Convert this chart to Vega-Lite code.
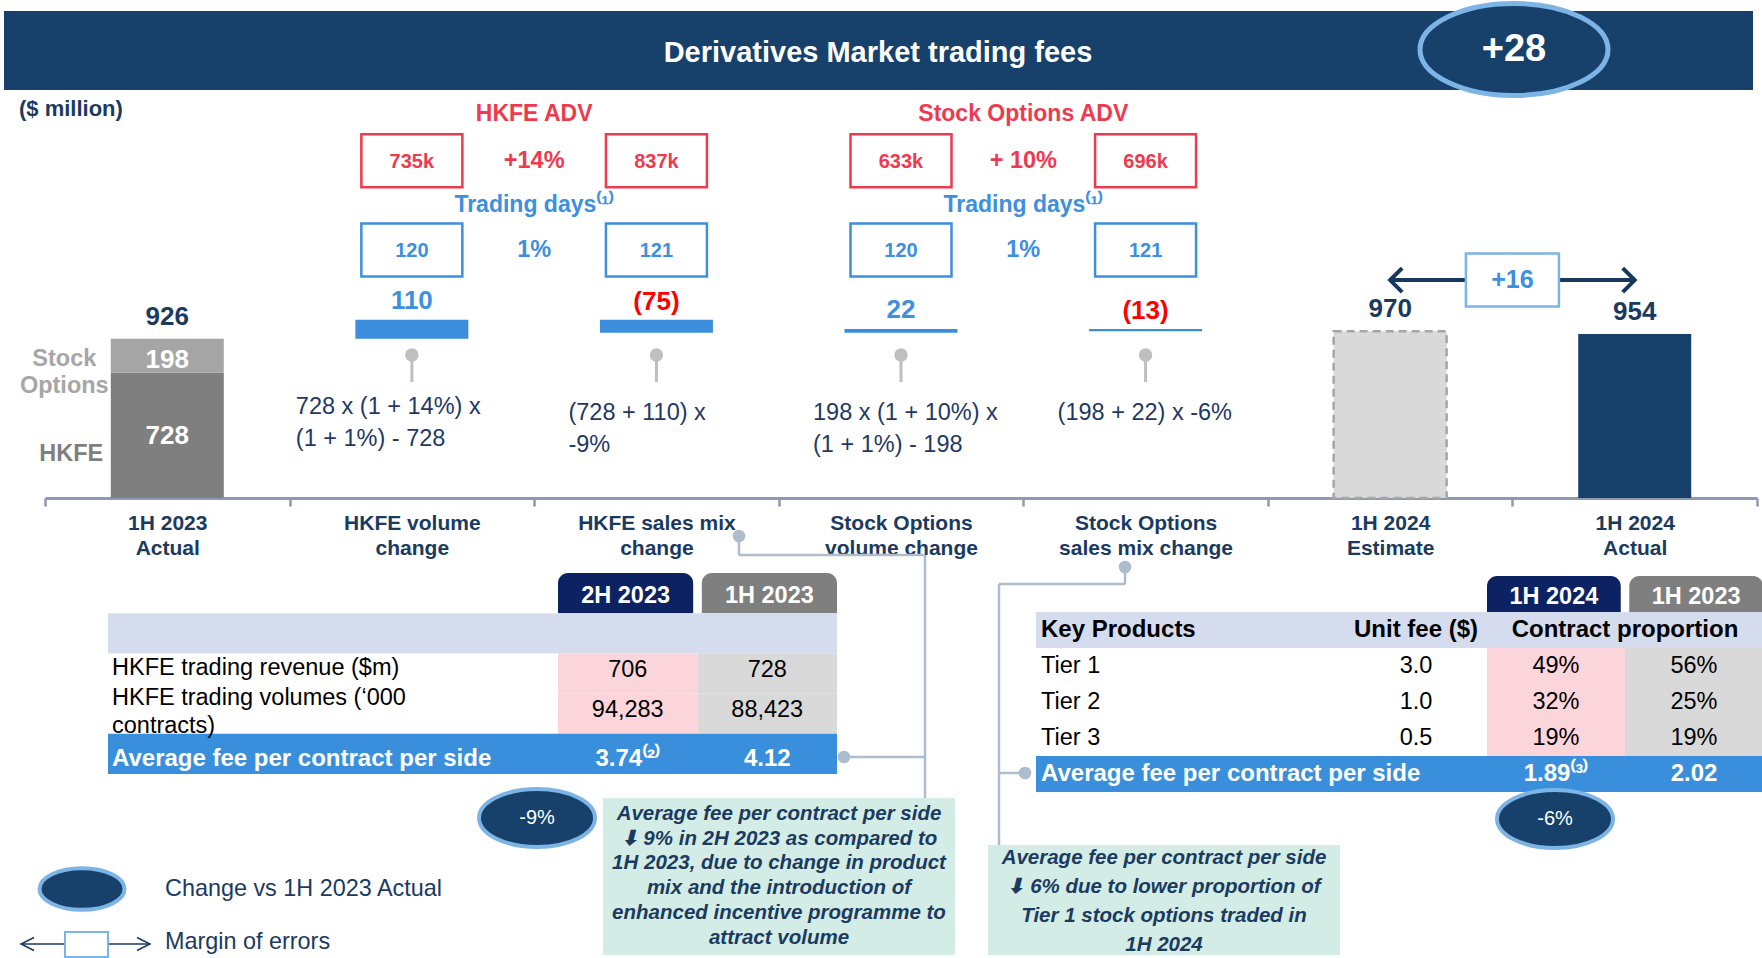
{
"$schema":"https://vega.github.io/schema/vega-lite/v6.json",
"width":1762,"height":958,"padding":0,"autosize":{"type":"none"},"background":"white",
"config":{"view":{"stroke":null},"font":"Liberation Sans"},
"data":{"values":[{"slide":"Derivatives Market trading fees","total_change":"+28","unit":"($ million)","estimate_gap":"+16"}]},
"datasets":{
"bars":[
{"category":"1H 2023 Actual","part":"HKFE","start":0,"end":728,"label":"728"},
{"category":"1H 2023 Actual","part":"Stock Options","start":728,"end":926,"label":"198"},
{"category":"HKFE volume change","part":"Increase","start":926,"end":1036,"label":"110"},
{"category":"HKFE sales mix change","part":"Decrease","start":1036,"end":961,"label":"(75)"},
{"category":"Stock Options volume change","part":"Increase","start":961,"end":983,"label":"22"},
{"category":"Stock Options sales mix change","part":"Decrease","start":983,"end":970,"label":"(13)"},
{"category":"1H 2024 Estimate","part":"Estimate","start":0,"end":970,"label":"970"},
{"category":"1H 2024 Actual","part":"Actual","start":0,"end":954,"label":"954"}],
"totals":[{"category":"1H 2023 Actual","total":926},{"category":"1H 2024 Estimate","total":970},{"category":"1H 2024 Actual","total":954}],
"driver_headings":[
{"metric":"HKFE ADV","row":"ADV heading","after":"HKFE volume change"},
{"metric":"Stock Options ADV","row":"ADV heading","after":"Stock Options volume change"},
{"metric":"Trading days⁽¹⁾","row":"Trading days heading","after":"HKFE volume change"},
{"metric":"Trading days⁽¹⁾","row":"Trading days heading","after":"Stock Options volume change"}],
"drivers":[
{"row":"ADV","category":"HKFE volume change","value":"735k"},
{"row":"ADV","category":"HKFE sales mix change","value":"837k"},
{"row":"ADV","category":"Stock Options volume change","value":"633k"},
{"row":"ADV","category":"Stock Options sales mix change","value":"696k"},
{"row":"Trading days","category":"HKFE volume change","value":"120"},
{"row":"Trading days","category":"HKFE sales mix change","value":"121"},
{"row":"Trading days","category":"Stock Options volume change","value":"120"},
{"row":"Trading days","category":"Stock Options sales mix change","value":"121"}],
"driver_changes":[
{"row":"ADV","after":"HKFE volume change","change":"+14%"},
{"row":"Trading days","after":"HKFE volume change","change":"1%"},
{"row":"ADV","after":"Stock Options volume change","change":"+ 10%"},
{"row":"Trading days","after":"Stock Options volume change","change":"1%"}],
"formulas":[
{"category":"HKFE volume change","formula":"728 x (1 + 14%) x\n(1 + 1%) - 728"},
{"category":"HKFE sales mix change","formula":"(728 + 110) x\n-9%"},
{"category":"Stock Options volume change","formula":"198 x (1 + 10%) x\n(1 + 1%) - 198"},
{"category":"Stock Options sales mix change","formula":"(198 + 22)  x -6%"}],
"hkfe_periods":[{"period":"2H 2023"},{"period":"1H 2023"}],
"hkfe_table":[
{"metric":"HKFE trading revenue ($m)","period":"2H 2023","value":"706"},
{"metric":"HKFE trading revenue ($m)","period":"1H 2023","value":"728"},
{"metric":"HKFE trading volumes (‘000 contracts)","period":"2H 2023","value":"94,283"},
{"metric":"HKFE trading volumes (‘000 contracts)","period":"1H 2023","value":"88,423"},
{"metric":"Average fee per contract per side","period":"2H 2023","value":"3.74⁽²⁾"},
{"metric":"Average fee per contract per side","period":"1H 2023","value":"4.12"}],
"hkfe_rows":[
{"metric":"HKFE trading revenue ($m)","label":"HKFE trading revenue ($m)"},
{"metric":"HKFE trading volumes (‘000 contracts)","label":"HKFE trading volumes (‘000\ncontracts)"},
{"metric":"Average fee per contract per side","label":"Average fee per contract per side"}],
"so_periods":[{"period":"1H 2024"},{"period":"1H 2023"}],
"so_header":[{"column":"Key Products"},{"column":"Unit fee ($)"},{"column":"Contract proportion"}],
"so_products":[{"product":"Tier 1","unit_fee":"3.0"},{"product":"Tier 2","unit_fee":"1.0"},{"product":"Tier 3","unit_fee":"0.5"}],
"so_table":[
{"product":"Tier 1","period":"1H 2024","share":"49%"},
{"product":"Tier 1","period":"1H 2023","share":"56%"},
{"product":"Tier 2","period":"1H 2024","share":"32%"},
{"product":"Tier 2","period":"1H 2023","share":"25%"},
{"product":"Tier 3","period":"1H 2024","share":"19%"},
{"product":"Tier 3","period":"1H 2023","share":"19%"},
{"product":"Average fee per contract per side","period":"1H 2024","share":"1.89⁽³⁾"},
{"product":"Average fee per contract per side","period":"1H 2023","share":"2.02"}],
"fee_changes":[{"table":"HKFE","change":"-9%"},{"table":"Stock Options","change":"-6%"}],
"legend":[{"item":"Change vs 1H 2023 Actual"},{"item":"Margin of errors"}],
"callouts":[
{"topic":"HKFE","note":"Average fee per contract per side\n⬇ 9% in 2H 2023 as compared to\n1H 2023, due to change in product\nmix and the introduction of\nenhanced incentive programme to\nattract volume"},
{"topic":"Stock Options","note":"Average fee per contract per side\n⬇ 6% due to lower proportion of\nTier 1 stock options traded in\n1H 2024"}]
},
"layer":[
{"mark":{"type":"rect","color":"#17416B"},"encoding":{"x":{"datum":0.227,"type":"quantitative","scale":{"domain":[0,100],"range":[0,1762]},"axis":null},"x2":{"datum":99.489},"y":{"datum":1.148,"type":"quantitative","scale":{"domain":[0,100],"range":[0,958]},"axis":null},"y2":{"datum":9.395}}},
{"mark":{"type":"text","color":"white","fontSize":29,"fontWeight":"bold","align":"center","baseline":"middle"},"encoding":{"x":{"datum":49.83,"type":"quantitative","scale":{"domain":[0,100],"range":[0,1762]},"axis":null},"y":{"datum":5.5,"type":"quantitative","scale":{"domain":[0,100],"range":[0,958]},"axis":null},"text":{"field":"slide"}}},
{"mark":{"type":"point","shape":"M -1 0 C -1 -0.2706 -0.5523 -0.49 0 -0.49 C 0.5523 -0.49 1 -0.2706 1 0 C 1 0.2706 0.5523 0.49 0 0.49 C -0.5523 0.49 -1 0.2706 -1 0 Z","size":35344,"filled":true,"fill":"#17416B","stroke":"#7DB4E6","strokeWidth":5,"opacity":1},"encoding":{"x":{"datum":85.925,"type":"quantitative","scale":{"domain":[0,100],"range":[0,1762]},"axis":null},"y":{"datum":5.167,"type":"quantitative","scale":{"domain":[0,100],"range":[0,958]},"axis":null}}},
{"mark":{"type":"text","color":"white","fontSize":38,"fontWeight":"bold","align":"center","baseline":"middle"},"encoding":{"x":{"datum":85.925,"type":"quantitative","scale":{"domain":[0,100],"range":[0,1762]},"axis":null},"y":{"datum":5.22,"type":"quantitative","scale":{"domain":[0,100],"range":[0,958]},"axis":null},"text":{"field":"total_change"}}},
{"mark":{"type":"text","color":"#1B3A60","fontSize":22,"fontWeight":"bold","align":"left","baseline":"middle"},"encoding":{"x":{"datum":1.078,"type":"quantitative","scale":{"domain":[0,100],"range":[0,1762]},"axis":null},"y":{"datum":11.378,"type":"quantitative","scale":{"domain":[0,100],"range":[0,958]},"axis":null},"text":{"field":"unit"}}},

{"data":{"name":"bars"},"transform":[{"filter":"datum.part !== 'Estimate'"}],"mark":{"type":"bar","width":{"band":0.462}},
"encoding":{"x":{"field":"category","type":"nominal","sort":null,"scale":{"type":"band","domain":["1H 2023 Actual","HKFE volume change","HKFE sales mix change","Stock Options volume change","Stock Options sales mix change","1H 2024 Estimate","1H 2024 Actual"],"range":[45,1757],"paddingInner":0,"paddingOuter":0},
"axis":{"orient":"bottom","offset":-460,"title":null,"grid":false,"domainColor":"#8E9AAF","domainWidth":3,"tickColor":"#8E9AAF","tickWidth":2.5,"tickSize":8,"tickBand":"extent","labelAngle":0,"labelFont":"Liberation Sans","labelFontSize":21,"labelFontWeight":"bold","labelColor":"#1B3A60","labelPadding":6,"labelLineHeight":25,"labelLimit":400,"labelOverlap":false,
"labelExpr":"indexof(datum.label,'Stock Options')==0 ? ['Stock Options', substring(datum.label,14)] : [substring(datum.label,0,lastindexof(datum.label,' ')), substring(datum.label,lastindexof(datum.label,' ')+1)]"}},
"y":{"field":"start","type":"quantitative","scale":{"type":"linear","domain":[0,1000],"range":[498,326],"nice":false,"zero":false},"axis":null},"y2":{"field":"end"},
"color":{"field":"part","type":"nominal","scale":{"domain":["HKFE","Stock Options","Increase","Decrease","Actual"],"range":["#7F7F7F","#A5A5A5","#3B8EDB","#3B8EDB","#17416B"]},"legend":null}}},

{"data":{"name":"bars"},"transform":[{"filter":"datum.part === 'Estimate'"}],"mark":{"type":"bar","width":{"band":0.462},"fill":"#D9D9D9","stroke":"#A6A6A6","strokeWidth":2.5,"strokeDash":[8,5]},
"encoding":{"x":{"field":"category","type":"nominal","scale":{"type":"band","domain":["1H 2023 Actual","HKFE volume change","HKFE sales mix change","Stock Options volume change","Stock Options sales mix change","1H 2024 Estimate","1H 2024 Actual"],"range":[45,1757],"paddingInner":0,"paddingOuter":0},"axis":null},
"y":{"field":"start","type":"quantitative","scale":{"type":"linear","domain":[0,1000],"range":[498,326],"nice":false,"zero":false},"axis":null},"y2":{"field":"end"}}},

{"data":{"name":"totals"},"mark":{"type":"text","color":"#1B3A60","fontSize":26,"fontWeight":"bold","align":"center","baseline":"bottom","dy":-9},
"encoding":{"x":{"field":"category","type":"nominal","scale":{"type":"band","domain":["1H 2023 Actual","HKFE volume change","HKFE sales mix change","Stock Options volume change","Stock Options sales mix change","1H 2024 Estimate","1H 2024 Actual"],"range":[45,1757],"paddingInner":0,"paddingOuter":0},"axis":null},
"y":{"field":"total","type":"quantitative","scale":{"type":"linear","domain":[0,1000],"range":[498,326],"nice":false,"zero":false},"axis":null},"text":{"field":"total","type":"quantitative","format":"d"}}},

{"data":{"name":"bars"},"transform":[{"filter":"datum.part === 'Increase'"}],"mark":{"type":"text","color":"#3D8FE0","fontSize":26,"fontWeight":"bold","align":"center","baseline":"bottom","dy":-6},
"encoding":{"x":{"field":"category","type":"nominal","scale":{"type":"band","domain":["1H 2023 Actual","HKFE volume change","HKFE sales mix change","Stock Options volume change","Stock Options sales mix change","1H 2024 Estimate","1H 2024 Actual"],"range":[45,1757],"paddingInner":0,"paddingOuter":0},"axis":null},
"y":{"field":"end","type":"quantitative","scale":{"type":"linear","domain":[0,1000],"range":[498,326],"nice":false,"zero":false},"axis":null},"text":{"field":"label"}}},

{"data":{"name":"bars"},"transform":[{"filter":"datum.part === 'Decrease'"}],"mark":{"type":"text","color":"#FF0000","fontSize":26,"fontWeight":"bold","align":"center","baseline":"bottom","dy":-5},
"encoding":{"x":{"field":"category","type":"nominal","scale":{"type":"band","domain":["1H 2023 Actual","HKFE volume change","HKFE sales mix change","Stock Options volume change","Stock Options sales mix change","1H 2024 Estimate","1H 2024 Actual"],"range":[45,1757],"paddingInner":0,"paddingOuter":0},"axis":null},
"y":{"field":"start","type":"quantitative","scale":{"type":"linear","domain":[0,1000],"range":[498,326],"nice":false,"zero":false},"axis":null},"text":{"field":"label"}}},

{"data":{"name":"bars"},"transform":[{"filter":"datum.part === 'Stock Options'"}],"mark":{"type":"text","color":"white","fontSize":26,"fontWeight":"bold","align":"center","baseline":"middle","dy":21},
"encoding":{"x":{"field":"category","type":"nominal","scale":{"type":"band","domain":["1H 2023 Actual","HKFE volume change","HKFE sales mix change","Stock Options volume change","Stock Options sales mix change","1H 2024 Estimate","1H 2024 Actual"],"range":[45,1757],"paddingInner":0,"paddingOuter":0},"axis":null},
"y":{"field":"end","type":"quantitative","scale":{"type":"linear","domain":[0,1000],"range":[498,326],"nice":false,"zero":false},"axis":null},"text":{"field":"label"}}},

{"data":{"name":"bars"},"transform":[{"filter":"datum.part === 'HKFE'"}],"mark":{"type":"text","color":"white","fontSize":26,"fontWeight":"bold","align":"center","baseline":"middle","dy":63},
"encoding":{"x":{"field":"category","type":"nominal","scale":{"type":"band","domain":["1H 2023 Actual","HKFE volume change","HKFE sales mix change","Stock Options volume change","Stock Options sales mix change","1H 2024 Estimate","1H 2024 Actual"],"range":[45,1757],"paddingInner":0,"paddingOuter":0},"axis":null},
"y":{"field":"end","type":"quantitative","scale":{"type":"linear","domain":[0,1000],"range":[498,326],"nice":false,"zero":false},"axis":null},"text":{"field":"label"}}},

{"data":{"name":"bars"},"transform":[{"filter":"datum.part === 'Stock Options'"}],"mark":{"type":"text","color":"#A6A6A6","fontSize":23.5,"fontWeight":"bold","align":"center","baseline":"middle","dx":-103,"dy":-14,"lineBreak":" ","lineHeight":27},
"encoding":{"x":{"field":"category","type":"nominal","scale":{"type":"band","domain":["1H 2023 Actual","HKFE volume change","HKFE sales mix change","Stock Options volume change","Stock Options sales mix change","1H 2024 Estimate","1H 2024 Actual"],"range":[45,1757],"paddingInner":0,"paddingOuter":0},"axis":null},
"y":{"field":"start","type":"quantitative","scale":{"type":"linear","domain":[0,1000],"range":[498,326],"nice":false,"zero":false},"axis":null},"text":{"field":"part"}}},

{"data":{"name":"bars"},"transform":[{"filter":"datum.part === 'HKFE'"}],"mark":{"type":"text","color":"#7F7F7F","fontSize":23.5,"fontWeight":"bold","align":"center","baseline":"middle","dx":-96,"dy":-44},
"encoding":{"x":{"field":"category","type":"nominal","scale":{"type":"band","domain":["1H 2023 Actual","HKFE volume change","HKFE sales mix change","Stock Options volume change","Stock Options sales mix change","1H 2024 Estimate","1H 2024 Actual"],"range":[45,1757],"paddingInner":0,"paddingOuter":0},"axis":null},
"y":{"field":"start","type":"quantitative","scale":{"type":"linear","domain":[0,1000],"range":[498,326],"nice":false,"zero":false},"axis":null},"text":{"field":"part"}}},

{"data":{"name":"formulas"},"mark":{"type":"rule","color":"#BFBFBF","strokeWidth":3},
"encoding":{"x":{"field":"category","type":"nominal","scale":{"type":"band","domain":["1H 2023 Actual","HKFE volume change","HKFE sales mix change","Stock Options volume change","Stock Options sales mix change","1H 2024 Estimate","1H 2024 Actual"],"range":[45,1757],"paddingInner":0,"paddingOuter":0},"axis":null},
"y":{"datum":831,"type":"quantitative","scale":{"type":"linear","domain":[0,1000],"range":[498,326],"nice":false,"zero":false},"axis":null},"y2":{"datum":674}}},

{"data":{"name":"formulas"},"mark":{"type":"point","filled":true,"color":"#BFBFBF","size":180,"opacity":1},
"encoding":{"x":{"field":"category","type":"nominal","scale":{"type":"band","domain":["1H 2023 Actual","HKFE volume change","HKFE sales mix change","Stock Options volume change","Stock Options sales mix change","1H 2024 Estimate","1H 2024 Actual"],"range":[45,1757],"paddingInner":0,"paddingOuter":0},"axis":null},
"y":{"datum":831,"type":"quantitative","scale":{"type":"linear","domain":[0,1000],"range":[498,326],"nice":false,"zero":false},"axis":null}}},

{"data":{"name":"formulas"},"transform":[{"filter":"datum.category === 'HKFE volume change'"}],"mark":{"type":"text","color":"#1F3864","fontSize":23.5,"align":"left","baseline":"top","dx":-116,"lineBreak":"\n","lineHeight":32},
"encoding":{"x":{"field":"category","type":"nominal","scale":{"type":"band","domain":["1H 2023 Actual","HKFE volume change","HKFE sales mix change","Stock Options volume change","Stock Options sales mix change","1H 2024 Estimate","1H 2024 Actual"],"range":[45,1757],"paddingInner":0,"paddingOuter":0},"axis":null},
"y":{"datum":600,"type":"quantitative","scale":{"type":"linear","domain":[0,1000],"range":[498,326],"nice":false,"zero":false},"axis":null},"text":{"field":"formula"}}},

{"data":{"name":"formulas"},"transform":[{"filter":"datum.category !== 'HKFE volume change'"}],"mark":{"type":"text","color":"#1F3864","fontSize":23.5,"align":"left","baseline":"top","dx":-88,"lineBreak":"\n","lineHeight":32},
"encoding":{"x":{"field":"category","type":"nominal","scale":{"type":"band","domain":["1H 2023 Actual","HKFE volume change","HKFE sales mix change","Stock Options volume change","Stock Options sales mix change","1H 2024 Estimate","1H 2024 Actual"],"range":[45,1757],"paddingInner":0,"paddingOuter":0},"axis":null},
"y":{"datum":566,"type":"quantitative","scale":{"type":"linear","domain":[0,1000],"range":[498,326],"nice":false,"zero":false},"axis":null},"text":{"field":"formula"}}},

{"mark":{"type":"rule","color":"#17375E","strokeWidth":4},
"encoding":{"x":{"datum":"1H 2024 Estimate","type":"nominal","scale":{"type":"band","domain":["1H 2023 Actual","HKFE volume change","HKFE sales mix change","Stock Options volume change","Stock Options sales mix change","1H 2024 Estimate","1H 2024 Actual"],"range":[45,1757],"paddingInner":0,"paddingOuter":0},"axis":null},"x2":{"datum":"1H 2024 Actual"},
"y":{"datum":1267,"type":"quantitative","scale":{"type":"linear","domain":[0,1000],"range":[498,326],"nice":false,"zero":false},"axis":null}}},

{"mark":{"type":"point","shape":"M 1 -1 L 0 0 L 1 1","size":576,"filled":false,"color":"#17375E","strokeWidth":4,"opacity":1},
"encoding":{"x":{"datum":"1H 2024 Estimate","type":"nominal","scale":{"type":"band","domain":["1H 2023 Actual","HKFE volume change","HKFE sales mix change","Stock Options volume change","Stock Options sales mix change","1H 2024 Estimate","1H 2024 Actual"],"range":[45,1757],"paddingInner":0,"paddingOuter":0},"axis":null},
"y":{"datum":1267,"type":"quantitative","scale":{"type":"linear","domain":[0,1000],"range":[498,326],"nice":false,"zero":false},"axis":null}}},

{"mark":{"type":"point","shape":"M -1 -1 L 0 0 L -1 1","size":576,"filled":false,"color":"#17375E","strokeWidth":4,"opacity":1},
"encoding":{"x":{"datum":"1H 2024 Actual","type":"nominal","scale":{"type":"band","domain":["1H 2023 Actual","HKFE volume change","HKFE sales mix change","Stock Options volume change","Stock Options sales mix change","1H 2024 Estimate","1H 2024 Actual"],"range":[45,1757],"paddingInner":0,"paddingOuter":0},"axis":null},
"y":{"datum":1267,"type":"quantitative","scale":{"type":"linear","domain":[0,1000],"range":[498,326],"nice":false,"zero":false},"axis":null}}},

{"mark":{"type":"point","shape":"M -1 -0.57 L 1 -0.57 L 1 0.57 L -1 0.57 Z","size":8649,"filled":true,"fill":"white","stroke":"#7DB4E6","strokeWidth":2.5,"opacity":1},
"encoding":{"x":{"datum":"1H 2024 Estimate","type":"nominal","bandPosition":1,"scale":{"type":"band","domain":["1H 2023 Actual","HKFE volume change","HKFE sales mix change","Stock Options volume change","Stock Options sales mix change","1H 2024 Estimate","1H 2024 Actual"],"range":[45,1757],"paddingInner":0,"paddingOuter":0},"axis":null},
"y":{"datum":1267,"type":"quantitative","scale":{"type":"linear","domain":[0,1000],"range":[498,326],"nice":false,"zero":false},"axis":null}}},

{"mark":{"type":"text","color":"#3D8FE0","fontSize":25,"fontWeight":"bold","align":"center","baseline":"middle"},
"encoding":{"x":{"datum":"1H 2024 Estimate","type":"nominal","bandPosition":1,"scale":{"type":"band","domain":["1H 2023 Actual","HKFE volume change","HKFE sales mix change","Stock Options volume change","Stock Options sales mix change","1H 2024 Estimate","1H 2024 Actual"],"range":[45,1757],"paddingInner":0,"paddingOuter":0},"axis":null},
"y":{"datum":1267,"type":"quantitative","scale":{"type":"linear","domain":[0,1000],"range":[498,326],"nice":false,"zero":false},"axis":null},"text":{"field":"estimate_gap"}}},

{"data":{"name":"driver_headings"},"mark":{"type":"text","fontSize":23,"fontWeight":"bold","align":"center","baseline":"middle"},
"encoding":{"x":{"field":"after","type":"nominal","bandPosition":1,"scale":{"type":"band","domain":["1H 2023 Actual","HKFE volume change","HKFE sales mix change","Stock Options volume change","Stock Options sales mix change","1H 2024 Estimate","1H 2024 Actual"],"range":[45,1757],"paddingInner":0,"paddingOuter":0},"axis":null},
"y":{"field":"row","type":"nominal","scale":{"type":"point","domain":["ADV heading","ADV","Trading days heading","Trading days"],"range":[114,250],"padding":0},"axis":null},
"color":{"field":"row","type":"nominal","scale":{"domain":["ADV heading","ADV","Trading days heading","Trading days"],"range":["#EE3A4F","#EE3A4F","#3D8FE0","#3D8FE0"]},"legend":null},"text":{"field":"metric"}}},

{"data":{"name":"drivers"},"mark":{"type":"point","shape":"M -1 -0.525 L 1 -0.525 L 1 0.525 L -1 0.525 Z","size":10201,"filled":true,"fill":"white","strokeWidth":2.5,"opacity":1},
"encoding":{"x":{"field":"category","type":"nominal","scale":{"type":"band","domain":["1H 2023 Actual","HKFE volume change","HKFE sales mix change","Stock Options volume change","Stock Options sales mix change","1H 2024 Estimate","1H 2024 Actual"],"range":[45,1757],"paddingInner":0,"paddingOuter":0},"axis":null},
"y":{"field":"row","type":"nominal","scale":{"type":"point","domain":["ADV heading","ADV","Trading days heading","Trading days"],"range":[116,250],"padding":0},"axis":null},
"stroke":{"field":"row","type":"nominal","scale":{"domain":["ADV","Trading days"],"range":["#EE3A4F","#3D8FE0"]},"legend":null}}},

{"data":{"name":"drivers"},"mark":{"type":"text","fontSize":20,"fontWeight":"bold","align":"center","baseline":"middle","dy":1},
"encoding":{"x":{"field":"category","type":"nominal","scale":{"type":"band","domain":["1H 2023 Actual","HKFE volume change","HKFE sales mix change","Stock Options volume change","Stock Options sales mix change","1H 2024 Estimate","1H 2024 Actual"],"range":[45,1757],"paddingInner":0,"paddingOuter":0},"axis":null},
"y":{"field":"row","type":"nominal","scale":{"type":"point","domain":["ADV heading","ADV","Trading days heading","Trading days"],"range":[116,250],"padding":0},"axis":null},
"color":{"field":"row","type":"nominal","scale":{"domain":["ADV","Trading days"],"range":["#EE3A4F","#3D8FE0"]},"legend":null},"text":{"field":"value"}}},

{"data":{"name":"driver_changes"},"mark":{"type":"text","fontSize":23.5,"fontWeight":"bold","align":"center","baseline":"middle"},
"encoding":{"x":{"field":"after","type":"nominal","bandPosition":1,"scale":{"type":"band","domain":["1H 2023 Actual","HKFE volume change","HKFE sales mix change","Stock Options volume change","Stock Options sales mix change","1H 2024 Estimate","1H 2024 Actual"],"range":[45,1757],"paddingInner":0,"paddingOuter":0},"axis":null},
"y":{"field":"row","type":"nominal","scale":{"type":"point","domain":["ADV heading","ADV","Trading days heading","Trading days"],"range":[116,250],"padding":0},"axis":null},
"color":{"field":"row","type":"nominal","scale":{"domain":["ADV","Trading days"],"range":["#EE3A4F","#3D8FE0"]},"legend":null},"text":{"field":"change"}}},

{"data":{"name":"hkfe_periods"},"mark":{"type":"rect","cornerRadiusTopLeft":10,"cornerRadiusTopRight":10},
"encoding":{"x":{"field":"period","type":"nominal","scale":{"type":"band","domain":["2H 2023","1H 2023"],"range":[558,837],"paddingInner":0.06,"paddingOuter":0},"axis":null},
"y":{"datum":"tabs","type":"nominal","scale":{"type":"band","domain":["tabs","header","HKFE trading revenue ($m)","HKFE trading volumes (‘000 contracts)","Average fee per contract per side"],"range":[573,774],"paddingInner":0,"paddingOuter":0},"axis":null},
"color":{"field":"period","type":"nominal","scale":{"domain":["2H 2023","1H 2023"],"range":["#0D2262","#7F7F7F"]},"legend":null}}},

{"data":{"name":"hkfe_periods"},"mark":{"type":"text","color":"white","fontSize":23.5,"fontWeight":"bold","align":"center","baseline":"middle","dy":3},
"encoding":{"x":{"field":"period","type":"nominal","scale":{"type":"band","domain":["2H 2023","1H 2023"],"range":[558,837],"paddingInner":0.06,"paddingOuter":0},"axis":null},
"y":{"datum":"tabs","type":"nominal","scale":{"type":"band","domain":["tabs","header","HKFE trading revenue ($m)","HKFE trading volumes (‘000 contracts)","Average fee per contract per side"],"range":[573,774],"paddingInner":0,"paddingOuter":0},"axis":null},"text":{"field":"period"}}},

{"mark":{"type":"rect","color":"#D5DCEE"},
"encoding":{"x":{"datum":6.129,"type":"quantitative","scale":{"domain":[0,100],"range":[0,1762]},"axis":null},"x2":{"datum":47.503},
"y":{"datum":"header","type":"nominal","scale":{"type":"band","domain":["tabs","header","HKFE trading revenue ($m)","HKFE trading volumes (‘000 contracts)","Average fee per contract per side"],"range":[573,774],"paddingInner":0,"paddingOuter":0},"axis":null}}},

{"data":{"name":"hkfe_table"},"transform":[{"filter":"datum.metric !== 'Average fee per contract per side'"}],"mark":{"type":"rect"},
"encoding":{"x":{"field":"period","type":"nominal","scale":{"type":"band","domain":["2H 2023","1H 2023"],"range":[558,837],"paddingInner":0,"paddingOuter":0},"axis":null},
"y":{"field":"metric","type":"nominal","scale":{"type":"band","domain":["tabs","header","HKFE trading revenue ($m)","HKFE trading volumes (‘000 contracts)","Average fee per contract per side"],"range":[573,774],"paddingInner":0,"paddingOuter":0},"axis":null},
"color":{"field":"period","type":"nominal","scale":{"domain":["2H 2023","1H 2023"],"range":["#FCD5DB","#D9D9D9"]},"legend":null}}},

{"mark":{"type":"rect","color":"#3A8FDC"},
"encoding":{"x":{"datum":6.129,"type":"quantitative","scale":{"domain":[0,100],"range":[0,1762]},"axis":null},"x2":{"datum":47.503},
"y":{"datum":"Average fee per contract per side","type":"nominal","scale":{"type":"band","domain":["tabs","header","HKFE trading revenue ($m)","HKFE trading volumes (‘000 contracts)","Average fee per contract per side"],"range":[573,774],"paddingInner":0,"paddingOuter":0},"axis":null}}},

{"data":{"name":"hkfe_table"},"transform":[{"filter":"datum.metric !== 'Average fee per contract per side'"}],"mark":{"type":"text","color":"black","fontSize":23.5,"align":"center","baseline":"middle","dy":-4},
"encoding":{"x":{"field":"period","type":"nominal","scale":{"type":"band","domain":["2H 2023","1H 2023"],"range":[558,837],"paddingInner":0,"paddingOuter":0},"axis":null},
"y":{"field":"metric","type":"nominal","scale":{"type":"band","domain":["tabs","header","HKFE trading revenue ($m)","HKFE trading volumes (‘000 contracts)","Average fee per contract per side"],"range":[573,774],"paddingInner":0,"paddingOuter":0},"axis":null},"text":{"field":"value"}}},

{"data":{"name":"hkfe_table"},"transform":[{"filter":"datum.metric === 'Average fee per contract per side'"}],"mark":{"type":"text","color":"white","fontSize":24,"fontWeight":"bold","align":"center","baseline":"middle","dy":5},
"encoding":{"x":{"field":"period","type":"nominal","scale":{"type":"band","domain":["2H 2023","1H 2023"],"range":[558,837],"paddingInner":0,"paddingOuter":0},"axis":null},
"y":{"field":"metric","type":"nominal","scale":{"type":"band","domain":["tabs","header","HKFE trading revenue ($m)","HKFE trading volumes (‘000 contracts)","Average fee per contract per side"],"range":[573,774],"paddingInner":0,"paddingOuter":0},"axis":null},"text":{"field":"value"}}},

{"data":{"name":"hkfe_rows"},"transform":[{"filter":"datum.metric === 'HKFE trading revenue ($m)'"}],"mark":{"type":"text","color":"black","fontSize":23.5,"align":"left","baseline":"middle","dy":-6},
"encoding":{"x":{"datum":6.356,"type":"quantitative","scale":{"domain":[0,100],"range":[0,1762]},"axis":null},
"y":{"field":"metric","type":"nominal","scale":{"type":"band","domain":["tabs","header","HKFE trading revenue ($m)","HKFE trading volumes (‘000 contracts)","Average fee per contract per side"],"range":[573,774],"paddingInner":0,"paddingOuter":0},"axis":null},"text":{"field":"label"}}},

{"data":{"name":"hkfe_rows"},"transform":[{"filter":"datum.metric === 'HKFE trading volumes (‘000 contracts)'"}],"mark":{"type":"text","color":"black","fontSize":23.5,"align":"left","baseline":"middle","dy":-16,"lineBreak":"\n","lineHeight":28},
"encoding":{"x":{"datum":6.356,"type":"quantitative","scale":{"domain":[0,100],"range":[0,1762]},"axis":null},
"y":{"field":"metric","type":"nominal","scale":{"type":"band","domain":["tabs","header","HKFE trading revenue ($m)","HKFE trading volumes (‘000 contracts)","Average fee per contract per side"],"range":[573,774],"paddingInner":0,"paddingOuter":0},"axis":null},"text":{"field":"label"}}},

{"data":{"name":"hkfe_rows"},"transform":[{"filter":"datum.metric === 'Average fee per contract per side'"}],"mark":{"type":"text","color":"white","fontSize":24,"fontWeight":"bold","align":"left","baseline":"middle","dy":5},
"encoding":{"x":{"datum":6.356,"type":"quantitative","scale":{"domain":[0,100],"range":[0,1762]},"axis":null},
"y":{"field":"metric","type":"nominal","scale":{"type":"band","domain":["tabs","header","HKFE trading revenue ($m)","HKFE trading volumes (‘000 contracts)","Average fee per contract per side"],"range":[573,774],"paddingInner":0,"paddingOuter":0},"axis":null},"text":{"field":"label"}}},

{"data":{"name":"so_periods"},"mark":{"type":"rect","cornerRadiusTopLeft":10,"cornerRadiusTopRight":10},
"encoding":{"x":{"field":"period","type":"nominal","scale":{"type":"band","domain":["1H 2024","1H 2023"],"range":[1487,1763],"paddingInner":0.06,"paddingOuter":0},"axis":null},
"y":{"datum":"tabs","type":"nominal","scale":{"type":"band","domain":["tabs","header","Tier 1","Tier 2","Tier 3","Average fee per contract per side"],"range":[576,792],"paddingInner":0,"paddingOuter":0},"axis":null},
"color":{"field":"period","type":"nominal","scale":{"domain":["1H 2024","1H 2023"],"range":["#0D2262","#7F7F7F"]},"legend":null}}},

{"data":{"name":"so_periods"},"mark":{"type":"text","color":"white","fontSize":23.5,"fontWeight":"bold","align":"center","baseline":"middle","dy":3},
"encoding":{"x":{"field":"period","type":"nominal","scale":{"type":"band","domain":["1H 2024","1H 2023"],"range":[1487,1763],"paddingInner":0.06,"paddingOuter":0},"axis":null},
"y":{"datum":"tabs","type":"nominal","scale":{"type":"band","domain":["tabs","header","Tier 1","Tier 2","Tier 3","Average fee per contract per side"],"range":[576,792],"paddingInner":0,"paddingOuter":0},"axis":null},"text":{"field":"period"}}},

{"mark":{"type":"rect","color":"#D5DCEE"},
"encoding":{"x":{"datum":58.797,"type":"quantitative","scale":{"domain":[0,100],"range":[0,1762]},"axis":null},"x2":{"datum":100},
"y":{"datum":"header","type":"nominal","scale":{"type":"band","domain":["tabs","header","Tier 1","Tier 2","Tier 3","Average fee per contract per side"],"range":[576,792],"paddingInner":0,"paddingOuter":0},"axis":null}}},

{"data":{"name":"so_header"},"transform":[{"filter":"datum.column === 'Key Products'"}],"mark":{"type":"text","color":"black","fontSize":24,"fontWeight":"bold","align":"left","baseline":"middle"},
"encoding":{"x":{"datum":59.081,"type":"quantitative","scale":{"domain":[0,100],"range":[0,1762]},"axis":null},
"y":{"datum":"header","type":"nominal","scale":{"type":"band","domain":["tabs","header","Tier 1","Tier 2","Tier 3","Average fee per contract per side"],"range":[576,792],"paddingInner":0,"paddingOuter":0},"axis":null},"text":{"field":"column"}}},

{"data":{"name":"so_header"},"transform":[{"filter":"datum.column === 'Unit fee ($)'"}],"mark":{"type":"text","color":"black","fontSize":24,"fontWeight":"bold","align":"right","baseline":"middle"},
"encoding":{"x":{"datum":83.882,"type":"quantitative","scale":{"domain":[0,100],"range":[0,1762]},"axis":null},
"y":{"datum":"header","type":"nominal","scale":{"type":"band","domain":["tabs","header","Tier 1","Tier 2","Tier 3","Average fee per contract per side"],"range":[576,792],"paddingInner":0,"paddingOuter":0},"axis":null},"text":{"field":"column"}}},

{"data":{"name":"so_header"},"transform":[{"filter":"datum.column === 'Contract proportion'"}],"mark":{"type":"text","color":"black","fontSize":24,"fontWeight":"bold","align":"center","baseline":"middle"},
"encoding":{"x":{"datum":"1H 2024","type":"nominal","bandPosition":1,"scale":{"type":"band","domain":["1H 2024","1H 2023"],"range":[1487,1763],"paddingInner":0,"paddingOuter":0},"axis":null},
"y":{"datum":"header","type":"nominal","scale":{"type":"band","domain":["tabs","header","Tier 1","Tier 2","Tier 3","Average fee per contract per side"],"range":[576,792],"paddingInner":0,"paddingOuter":0},"axis":null},"text":{"field":"column"}}},

{"data":{"name":"so_table"},"transform":[{"filter":"datum.product !== 'Average fee per contract per side'"}],"mark":{"type":"rect"},
"encoding":{"x":{"field":"period","type":"nominal","scale":{"type":"band","domain":["1H 2024","1H 2023"],"range":[1487,1763],"paddingInner":0,"paddingOuter":0},"axis":null},
"y":{"field":"product","type":"nominal","scale":{"type":"band","domain":["tabs","header","Tier 1","Tier 2","Tier 3","Average fee per contract per side"],"range":[576,792],"paddingInner":0,"paddingOuter":0},"axis":null},
"color":{"field":"period","type":"nominal","scale":{"domain":["1H 2024","1H 2023"],"range":["#FCD5DB","#D9D9D9"]},"legend":null}}},

{"mark":{"type":"rect","color":"#3A8FDC"},
"encoding":{"x":{"datum":58.797,"type":"quantitative","scale":{"domain":[0,100],"range":[0,1762]},"axis":null},"x2":{"datum":100},
"y":{"datum":"Average fee per contract per side","type":"nominal","scale":{"type":"band","domain":["tabs","header","Tier 1","Tier 2","Tier 3","Average fee per contract per side"],"range":[576,792],"paddingInner":0,"paddingOuter":0},"axis":null}}},

{"data":{"name":"so_products"},"mark":{"type":"text","color":"black","fontSize":23.5,"align":"left","baseline":"middle"},
"encoding":{"x":{"datum":59.081,"type":"quantitative","scale":{"domain":[0,100],"range":[0,1762]},"axis":null},
"y":{"field":"product","type":"nominal","scale":{"type":"band","domain":["tabs","header","Tier 1","Tier 2","Tier 3","Average fee per contract per side"],"range":[576,792],"paddingInner":0,"paddingOuter":0},"axis":null},"text":{"field":"product"}}},

{"data":{"name":"so_products"},"mark":{"type":"text","color":"black","fontSize":23.5,"align":"center","baseline":"middle"},
"encoding":{"x":{"datum":80.363,"type":"quantitative","scale":{"domain":[0,100],"range":[0,1762]},"axis":null},
"y":{"field":"product","type":"nominal","scale":{"type":"band","domain":["tabs","header","Tier 1","Tier 2","Tier 3","Average fee per contract per side"],"range":[576,792],"paddingInner":0,"paddingOuter":0},"axis":null},"text":{"field":"unit_fee"}}},

{"data":{"name":"so_table"},"transform":[{"filter":"datum.product !== 'Average fee per contract per side'"}],"mark":{"type":"text","color":"black","fontSize":23.5,"align":"center","baseline":"middle"},
"encoding":{"x":{"field":"period","type":"nominal","scale":{"type":"band","domain":["1H 2024","1H 2023"],"range":[1487,1763],"paddingInner":0,"paddingOuter":0},"axis":null},
"y":{"field":"product","type":"nominal","scale":{"type":"band","domain":["tabs","header","Tier 1","Tier 2","Tier 3","Average fee per contract per side"],"range":[576,792],"paddingInner":0,"paddingOuter":0},"axis":null},"text":{"field":"share"}}},

{"data":{"name":"so_table"},"transform":[{"filter":"datum.product === 'Average fee per contract per side' && datum.period === '1H 2024'"}],"mark":{"type":"text","color":"white","fontSize":24,"fontWeight":"bold","align":"left","baseline":"middle"},
"encoding":{"x":{"datum":59.081,"type":"quantitative","scale":{"domain":[0,100],"range":[0,1762]},"axis":null},
"y":{"field":"product","type":"nominal","scale":{"type":"band","domain":["tabs","header","Tier 1","Tier 2","Tier 3","Average fee per contract per side"],"range":[576,792],"paddingInner":0,"paddingOuter":0},"axis":null},"text":{"field":"product"}}},

{"data":{"name":"so_table"},"transform":[{"filter":"datum.product === 'Average fee per contract per side'"}],"mark":{"type":"text","color":"white","fontSize":24,"fontWeight":"bold","align":"center","baseline":"middle"},
"encoding":{"x":{"field":"period","type":"nominal","scale":{"type":"band","domain":["1H 2024","1H 2023"],"range":[1487,1763],"paddingInner":0,"paddingOuter":0},"axis":null},
"y":{"field":"product","type":"nominal","scale":{"type":"band","domain":["tabs","header","Tier 1","Tier 2","Tier 3","Average fee per contract per side"],"range":[576,792],"paddingInner":0,"paddingOuter":0},"axis":null},"text":{"field":"share"}}},

{"mark":{"type":"rule","color":"#AEBCCD","strokeWidth":2.5},"encoding":{"x":{"datum":41.941,"type":"quantitative","scale":{"domain":[0,100],"range":[0,1762]},"axis":null},"y":{"datum":55.95,"type":"quantitative","scale":{"domain":[0,100],"range":[0,958]},"axis":null},"y2":{"datum":57.933}}},
{"mark":{"type":"rule","color":"#AEBCCD","strokeWidth":2.5},"encoding":{"x":{"datum":41.941,"type":"quantitative","scale":{"domain":[0,100],"range":[0,1762]},"axis":null},"x2":{"datum":52.497},"y":{"datum":57.933,"type":"quantitative","scale":{"domain":[0,100],"range":[0,958]},"axis":null}}},
{"mark":{"type":"rule","color":"#AEBCCD","strokeWidth":2.5},"encoding":{"x":{"datum":52.497,"type":"quantitative","scale":{"domain":[0,100],"range":[0,1762]},"axis":null},"y":{"datum":57.933,"type":"quantitative","scale":{"domain":[0,100],"range":[0,958]},"axis":null},"y2":{"datum":83.299}}},
{"mark":{"type":"rule","color":"#AEBCCD","strokeWidth":2.5},"encoding":{"x":{"datum":47.9,"type":"quantitative","scale":{"domain":[0,100],"range":[0,1762]},"axis":null},"x2":{"datum":52.497},"y":{"datum":79.019,"type":"quantitative","scale":{"domain":[0,100],"range":[0,958]},"axis":null}}},
{"mark":{"type":"rule","color":"#AEBCCD","strokeWidth":2.5},"encoding":{"x":{"datum":63.848,"type":"quantitative","scale":{"domain":[0,100],"range":[0,1762]},"axis":null},"y":{"datum":59.186,"type":"quantitative","scale":{"domain":[0,100],"range":[0,958]},"axis":null},"y2":{"datum":60.96}}},
{"mark":{"type":"rule","color":"#AEBCCD","strokeWidth":2.5},"encoding":{"x":{"datum":56.697,"type":"quantitative","scale":{"domain":[0,100],"range":[0,1762]},"axis":null},"x2":{"datum":63.848},"y":{"datum":60.96,"type":"quantitative","scale":{"domain":[0,100],"range":[0,958]},"axis":null}}},
{"mark":{"type":"rule","color":"#AEBCCD","strokeWidth":2.5},"encoding":{"x":{"datum":56.697,"type":"quantitative","scale":{"domain":[0,100],"range":[0,1762]},"axis":null},"y":{"datum":60.96,"type":"quantitative","scale":{"domain":[0,100],"range":[0,958]},"axis":null},"y2":{"datum":88.205}}},
{"mark":{"type":"rule","color":"#AEBCCD","strokeWidth":2.5},"encoding":{"x":{"datum":56.697,"type":"quantitative","scale":{"domain":[0,100],"range":[0,1762]},"axis":null},"x2":{"datum":58.173},"y":{"datum":80.689,"type":"quantitative","scale":{"domain":[0,100],"range":[0,958]},"axis":null}}},
{"mark":{"type":"point","filled":true,"color":"#AEBCCD","size":160,"opacity":1},"encoding":{"x":{"datum":41.941,"type":"quantitative","scale":{"domain":[0,100],"range":[0,1762]},"axis":null},"y":{"datum":55.95,"type":"quantitative","scale":{"domain":[0,100],"range":[0,958]},"axis":null}}},
{"mark":{"type":"point","filled":true,"color":"#AEBCCD","size":160,"opacity":1},"encoding":{"x":{"datum":47.9,"type":"quantitative","scale":{"domain":[0,100],"range":[0,1762]},"axis":null},"y":{"datum":79.019,"type":"quantitative","scale":{"domain":[0,100],"range":[0,958]},"axis":null}}},
{"mark":{"type":"point","filled":true,"color":"#AEBCCD","size":160,"opacity":1},"encoding":{"x":{"datum":63.848,"type":"quantitative","scale":{"domain":[0,100],"range":[0,1762]},"axis":null},"y":{"datum":59.186,"type":"quantitative","scale":{"domain":[0,100],"range":[0,958]},"axis":null}}},
{"mark":{"type":"point","filled":true,"color":"#AEBCCD","size":160,"opacity":1},"encoding":{"x":{"datum":58.173,"type":"quantitative","scale":{"domain":[0,100],"range":[0,1762]},"axis":null},"y":{"datum":80.689,"type":"quantitative","scale":{"domain":[0,100],"range":[0,958]},"axis":null}}},

{"mark":{"type":"point","shape":"M -1 0 C -1 -0.2762 -0.5523 -0.5 0 -0.5 C 0.5523 -0.5 1 -0.2762 1 0 C 1 0.2762 0.5523 0.5 0 0.5 C -0.5523 0.5 -1 0.2762 -1 0 Z","size":13456,"filled":true,"fill":"#17416B","stroke":"#7DB4E6","strokeWidth":4,"opacity":1},"encoding":{"x":{"datum":30.477,"type":"quantitative","scale":{"domain":[0,100],"range":[0,1762]},"axis":null},"y":{"datum":85.386,"type":"quantitative","scale":{"domain":[0,100],"range":[0,958]},"axis":null}}},
{"data":{"name":"fee_changes"},"transform":[{"filter":"datum.table === 'HKFE'"}],"mark":{"type":"text","color":"white","fontSize":20,"align":"center","baseline":"middle"},"encoding":{"x":{"datum":30.477,"type":"quantitative","scale":{"domain":[0,100],"range":[0,1762]},"axis":null},"y":{"datum":85.386,"type":"quantitative","scale":{"domain":[0,100],"range":[0,958]},"axis":null},"text":{"field":"change"}}},
{"mark":{"type":"point","shape":"M -1 0 C -1 -0.2762 -0.5523 -0.5 0 -0.5 C 0.5523 -0.5 1 -0.2762 1 0 C 1 0.2762 0.5523 0.5 0 0.5 C -0.5523 0.5 -1 0.2762 -1 0 Z","size":13456,"filled":true,"fill":"#17416B","stroke":"#7DB4E6","strokeWidth":4,"opacity":1},"encoding":{"x":{"datum":88.252,"type":"quantitative","scale":{"domain":[0,100],"range":[0,1762]},"axis":null},"y":{"datum":85.491,"type":"quantitative","scale":{"domain":[0,100],"range":[0,958]},"axis":null}}},
{"data":{"name":"fee_changes"},"transform":[{"filter":"datum.table === 'Stock Options'"}],"mark":{"type":"text","color":"white","fontSize":20,"align":"center","baseline":"middle"},"encoding":{"x":{"datum":88.252,"type":"quantitative","scale":{"domain":[0,100],"range":[0,1762]},"axis":null},"y":{"datum":85.491,"type":"quantitative","scale":{"domain":[0,100],"range":[0,958]},"axis":null},"text":{"field":"change"}}},

{"mark":{"type":"point","shape":"M -1 0 C -1 -0.2706 -0.5523 -0.49 0 -0.49 C 0.5523 -0.49 1 -0.2706 1 0 C 1 0.2706 0.5523 0.49 0 0.49 C -0.5523 0.49 -1 0.2706 -1 0 Z","size":7225,"filled":true,"fill":"#17416B","stroke":"#7DB4E6","strokeWidth":4,"opacity":1},"encoding":{"x":{"datum":4.654,"type":"quantitative","scale":{"domain":[0,100],"range":[0,1762]},"axis":null},"y":{"datum":92.797,"type":"quantitative","scale":{"domain":[0,100],"range":[0,958]},"axis":null}}},
{"data":{"name":"legend"},"mark":{"type":"text","color":"#1B3A60","fontSize":23.4,"align":"left","baseline":"middle"},"encoding":{"x":{"datum":9.364,"type":"quantitative","scale":{"domain":[0,100],"range":[0,1762]},"axis":null},"y":{"field":"item","type":"nominal","scale":{"type":"point","domain":["Change vs 1H 2023 Actual","Margin of errors"],"range":[889,942],"padding":0},"axis":null},"text":{"field":"item"}}},
{"mark":{"type":"rule","color":"#1B3A60","strokeWidth":1.5},"encoding":{"x":{"datum":1.192,"type":"quantitative","scale":{"domain":[0,100],"range":[0,1762]},"axis":null},"x2":{"datum":3.689},"y":{"datum":98.539,"type":"quantitative","scale":{"domain":[0,100],"range":[0,958]},"axis":null}}},
{"mark":{"type":"rule","color":"#1B3A60","strokeWidth":1.5},"encoding":{"x":{"datum":6.129,"type":"quantitative","scale":{"domain":[0,100],"range":[0,1762]},"axis":null},"x2":{"datum":8.513},"y":{"datum":98.539,"type":"quantitative","scale":{"domain":[0,100],"range":[0,958]},"axis":null}}},
{"mark":{"type":"rect","fill":"white","stroke":"#7DB4E6","strokeWidth":2},"encoding":{"x":{"datum":3.689,"type":"quantitative","scale":{"domain":[0,100],"range":[0,1762]},"axis":null},"x2":{"datum":6.129},"y":{"datum":97.286,"type":"quantitative","scale":{"domain":[0,100],"range":[0,958]},"axis":null},"y2":{"datum":99.896}}},
{"mark":{"type":"point","shape":"M 2 -1 L 0 0 L 2 1","size":169,"filled":false,"color":"#1B3A60","strokeWidth":1.5,"opacity":1},"encoding":{"x":{"datum":1.192,"type":"quantitative","scale":{"domain":[0,100],"range":[0,1762]},"axis":null},"y":{"datum":98.539,"type":"quantitative","scale":{"domain":[0,100],"range":[0,958]},"axis":null}}},
{"mark":{"type":"point","shape":"M -2 -1 L 0 0 L -2 1","size":169,"filled":false,"color":"#1B3A60","strokeWidth":1.5,"opacity":1},"encoding":{"x":{"datum":8.513,"type":"quantitative","scale":{"domain":[0,100],"range":[0,1762]},"axis":null},"y":{"datum":98.539,"type":"quantitative","scale":{"domain":[0,100],"range":[0,958]},"axis":null}}},

{"mark":{"type":"rect","color":"#D3ECE6"},"encoding":{"x":{"datum":34.222,"type":"quantitative","scale":{"domain":[0,100],"range":[0,1762]},"axis":null},"x2":{"datum":54.2},"y":{"datum":83.299,"type":"quantitative","scale":{"domain":[0,100],"range":[0,958]},"axis":null},"y2":{"datum":99.687}}},
{"data":{"name":"callouts"},"transform":[{"filter":"datum.topic === 'HKFE'"}],"mark":{"type":"text","color":"#1B3A60","fontSize":20.5,"fontWeight":"bold","fontStyle":"italic","align":"center","baseline":"top","lineBreak":"\n","lineHeight":24.7},"encoding":{"x":{"datum":44.211,"type":"quantitative","scale":{"domain":[0,100],"range":[0,1762]},"axis":null},"y":{"datum":83.925,"type":"quantitative","scale":{"domain":[0,100],"range":[0,958]},"axis":null},"text":{"field":"note"}}},
{"mark":{"type":"rect","color":"#D3ECE6"},"encoding":{"x":{"datum":56.073,"type":"quantitative","scale":{"domain":[0,100],"range":[0,1762]},"axis":null},"x2":{"datum":76.05},"y":{"datum":88.205,"type":"quantitative","scale":{"domain":[0,100],"range":[0,958]},"axis":null},"y2":{"datum":99.687}}},
{"data":{"name":"callouts"},"transform":[{"filter":"datum.topic === 'Stock Options'"}],"mark":{"type":"text","color":"#1B3A60","fontSize":20.5,"fontWeight":"bold","fontStyle":"italic","align":"center","baseline":"top","lineBreak":"\n","lineHeight":29},"encoding":{"x":{"datum":66.061,"type":"quantitative","scale":{"domain":[0,100],"range":[0,1762]},"axis":null},"y":{"datum":88.518,"type":"quantitative","scale":{"domain":[0,100],"range":[0,958]},"axis":null},"text":{"field":"note"}}}
],
"resolve":{"scale":{"x":"independent","y":"independent","color":"independent","stroke":"independent","size":"independent","shape":"independent","opacity":"independent"}}
}
